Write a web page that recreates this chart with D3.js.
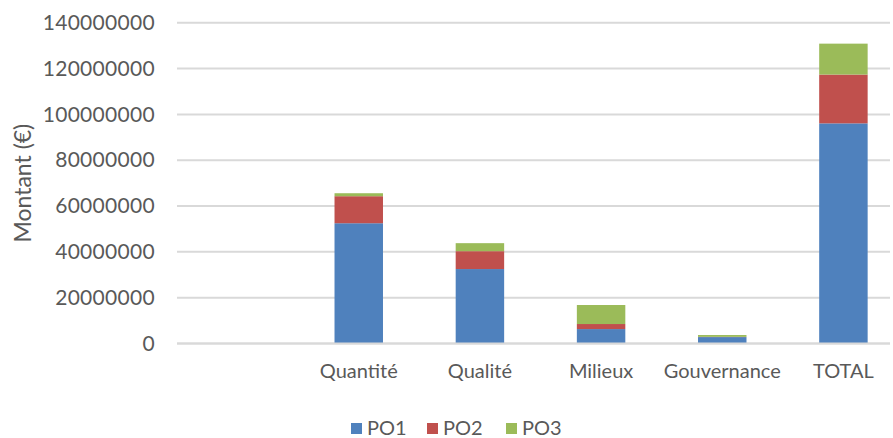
<!DOCTYPE html>
<html>
<head>
<meta charset="utf-8">
<script src="https://cdn.jsdelivr.net/npm/d3@7"></script>
<style>
  html, body { margin: 0; padding: 0; background: #fff; }
  svg { display: block; }
  text { font-family: Lato, "Open Sans", sans-serif; fill: #595959; }
</style>
</head>
<body>
<svg id="chart" width="893" height="438"></svg>
<script>
// Budget par thématique et par programme opérationnel (montants en €)
const categories = ["", "Quantité", "Qualité", "Milieux", "Gouvernance", "TOTAL"];
const seriesNames = ["PO1", "PO2", "PO3"];
const seriesColors = ["#4f81bd", "#c0504d", "#9bbb59"];
const po1 = [0, 52500000, 32500000, 6300000, 2800000, 96100000];
const po2 = [0, 11800000, 7800000, 2200000, 100000, 21300000];
const po3 = [0, 1300000, 3500000, 8300000, 800000, 13500000];
const yTicks = [0, 20000000, 40000000, 60000000, 80000000, 100000000, 120000000, 140000000];

const rows = categories.map((c, i) => ({ cat: c, PO1: po1[i], PO2: po2[i], PO3: po3[i] }));
const stacked = d3.stack().keys(seriesNames)(rows);

const svg = d3.select("#chart");
const plot = { left: 177, right: 904, top: 22.8, bottom: 343.5, gridEnd: 890 };

const x = d3.scaleBand()
  .domain(categories)
  .range([plot.left, plot.right])
  .paddingInner(0.6)
  .paddingOuter(0.3);

const y = d3.scaleLinear()
  .domain([0, 140000000])
  .range([plot.bottom, plot.top]);

const color = d3.scaleOrdinal().domain(seriesNames).range(seriesColors);

// horizontal gridlines
svg.append("g")
  .selectAll("line")
  .data(yTicks)
  .join("line")
  .attr("x1", plot.left)
  .attr("x2", plot.gridEnd)
  .attr("y1", d => y(d))
  .attr("y2", d => y(d))
  .attr("stroke", "#d9d9d9")
  .attr("stroke-width", 2);

// y axis labels
const yAxis = d3.axisLeft(y).tickValues(yTicks).tickFormat(d3.format("d")).tickSize(0).tickPadding(22);
const gy = svg.append("g").attr("transform", `translate(${plot.left},0)`).call(yAxis);
gy.select(".domain").remove();
gy.selectAll("text")
  .attr("font-size", 21)
  .attr("letter-spacing", 0.3)
  .attr("font-family", "Lato, 'Open Sans', sans-serif")
  .attr("fill", "#595959");

// stacked bars
svg.append("g")
  .selectAll("g")
  .data(stacked)
  .join("g")
  .attr("fill", d => color(d.key))
  .selectAll("rect")
  .data(d => d)
  .join("rect")
  .attr("x", d => x(d.data.cat))
  .attr("width", x.bandwidth())
  .attr("y", d => y(d[1]))
  .attr("height", d => y(d[0]) - y(d[1]));

// baseline on top of the bars
svg.append("line")
  .attr("x1", plot.left)
  .attr("x2", plot.gridEnd)
  .attr("y1", y(0))
  .attr("y2", y(0))
  .attr("stroke", "#d9d9d9")
  .attr("stroke-width", 2);

// x axis labels
const xAxis = d3.axisBottom(x).tickSize(0).tickPadding(20);
const gx = svg.append("g").attr("transform", `translate(0,${plot.bottom})`).call(xAxis);
gx.select(".domain").remove();
gx.selectAll("text")
  .attr("font-size", 20)
  .attr("font-family", "Lato, 'Open Sans', sans-serif")
  .attr("fill", "#595959");

// y axis title
svg.append("text")
  .attr("transform", `translate(31,${(plot.top + plot.bottom) / 2}) rotate(-90)`)
  .attr("text-anchor", "middle")
  .attr("font-size", 23)
  .text("Montant (€)");

// legend
const legendX = [351, 427, 506];
const legend = svg.append("g")
  .selectAll("g")
  .data(seriesNames)
  .join("g")
  .attr("transform", (d, i) => `translate(${legendX[i]},423)`);
legend.append("rect")
  .attr("width", 11)
  .attr("height", 11)
  .attr("fill", d => color(d));
legend.append("text")
  .attr("x", 16)
  .attr("y", 12)
  .attr("font-size", 20)
  .text(d => d);
</script>
</body>
</html>
